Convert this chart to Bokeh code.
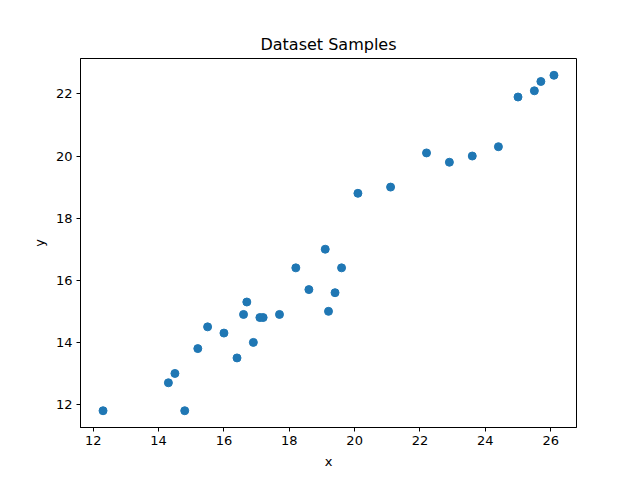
from bokeh.plotting import figure
from bokeh.models import Range1d, FixedTicker
from bokeh.embed import file_html
from bokeh.resources import INLINE

x_vals = [12.3, 14.3, 14.5, 14.8, 15.2, 15.5, 16.0, 16.4, 16.6, 16.7, 16.9, 17.1, 17.2,
          17.7, 18.2, 18.6, 19.1, 19.2, 19.4, 19.6, 20.1, 21.1,
          22.2, 22.9, 23.6, 24.4, 25.0, 25.5, 25.7, 26.1]
y_vals = [11.8, 12.7, 13.0, 11.8, 13.8, 14.5, 14.3, 13.5, 14.9, 15.3, 14.0, 14.8, 14.8,
          14.9, 16.4, 15.7, 17.0, 15.0, 15.6, 16.4, 18.8, 19.0,
          20.1, 19.8, 20.0, 20.3, 21.9, 22.1, 22.4, 22.6]
x_ticks = [12, 14, 16, 18, 20, 22, 24, 26]
y_ticks = [12, 14, 16, 18, 20, 22]

def padded(vals, m=0.05):
    lo, hi = min(vals), max(vals)
    s = hi - lo
    return lo - m * s, hi + m * s

x0, x1 = padded(x_vals)
y0, y1 = padded(y_vals)

FONT = "DejaVu Sans"
p = figure(width=640, height=480, output_backend="svg", toolbar_location=None,
           x_range=Range1d(x0, x1), y_range=Range1d(y0, y1),
           title="Dataset Samples")
p.min_border_left = 80
p.min_border_right = 64
p.min_border_top = 58
p.min_border_bottom = 53
p.background_fill_color = "white"
p.border_fill_color = "white"
p.outline_line_color = "black"
p.outline_line_width = 1
p.outline_line_alpha = 1.0
p.xgrid.visible = False
p.ygrid.visible = False

p.title.text_font = FONT
p.title.text_font_size = "16px"
p.title.text_font_style = "normal"
p.title.align = "center"
p.title.text_color = "black"
p.title.standoff = 9

for ax, lab, ticks in ((p.xaxis[0], "x", x_ticks), (p.yaxis[0], "y", y_ticks)):
    ax.ticker = FixedTicker(ticks=ticks)
    ax.axis_label = lab
    ax.axis_label_text_font = FONT
    ax.axis_label_text_font_size = "13px"
    ax.axis_label_text_font_style = "normal"
    ax.axis_label_text_color = "black"
    ax.major_label_text_font = FONT
    ax.major_label_text_font_size = "13px"
    ax.major_label_text_color = "black"
    ax.major_tick_in = 0
    ax.major_tick_out = 4
    ax.minor_tick_line_color = None
    ax.major_tick_line_color = "black"
    ax.axis_line_color = "black"
    ax.major_label_standoff = 4
    ax.axis_label_standoff = 6

p.scatter(x_vals, y_vals, size=8, color="#1f77b4", line_color="#1f77b4")

open("out.html", "w").write(file_html(p, INLINE))
